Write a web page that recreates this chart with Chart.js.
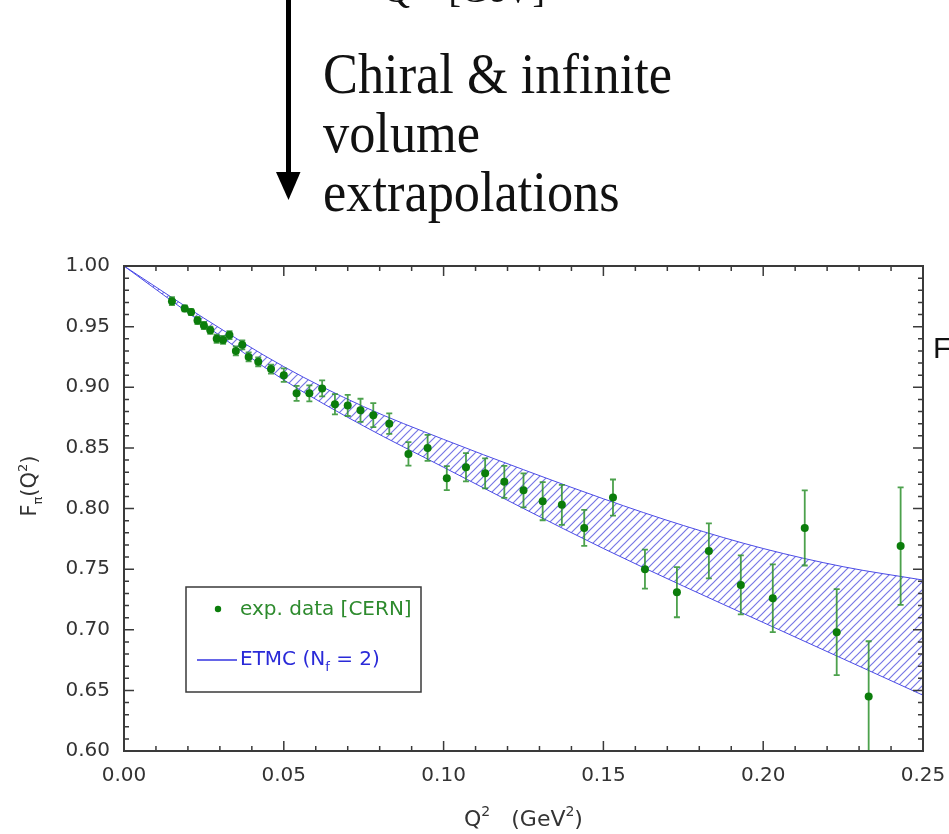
<!DOCTYPE html>
<html>
<head>
<meta charset="utf-8">
<script src="https://cdn.jsdelivr.net/npm/chart.js@4.4.1/dist/chart.umd.min.js"></script>
<style>
  html, body { margin: 0; padding: 0; background: #fff; }
  #wrap { width: 949px; height: 834px; position: relative; }
</style>
</head>
<body>
<div id="wrap"><canvas id="ffChart"></canvas></div>
<script>
// DATA

const qSq = [0.015, 0.019, 0.021, 0.023, 0.025, 0.027, 0.029, 0.031, 0.033, 0.035,
  0.037, 0.039, 0.042, 0.046, 0.050, 0.054, 0.058, 0.062, 0.066, 0.070,
  0.074, 0.078, 0.083, 0.089, 0.095, 0.101, 0.107, 0.113, 0.119, 0.125,
  0.131, 0.137, 0.144, 0.153, 0.163, 0.173, 0.183, 0.193, 0.203, 0.213,
  0.223, 0.233, 0.243];
const formFactor = [0.971, 0.965, 0.962, 0.955, 0.951, 0.947, 0.940, 0.939, 0.943, 0.930,
  0.935, 0.925, 0.921, 0.915, 0.910, 0.895, 0.895, 0.899, 0.886, 0.885,
  0.881, 0.877, 0.870, 0.845, 0.850, 0.825, 0.834, 0.829, 0.822, 0.815,
  0.806, 0.803, 0.784, 0.809, 0.750, 0.731, 0.765, 0.737, 0.726, 0.784,
  0.698, 0.645, 0.769];
const formFactorErr = [0.0033, 0.0025, 0.0025, 0.003, 0.003, 0.003, 0.0033, 0.0033, 0.0033, 0.0037,
  0.0037, 0.0037, 0.0037, 0.0037, 0.0055, 0.0062, 0.0066, 0.0066, 0.0083, 0.0087,
  0.0095, 0.0099, 0.0085, 0.0097, 0.0107, 0.0099, 0.0116, 0.0124, 0.0132, 0.014,
  0.0157, 0.0165, 0.0149, 0.0149, 0.0161, 0.0207, 0.0227, 0.0244, 0.0279, 0.031,
  0.0355, 0.0455, 0.0485];

// ETMC band
const bandX = [0, 0.025, 0.05, 0.075, 0.10, 0.125, 0.15, 0.175, 0.20, 0.225, 0.25];
const bandUpper = [1.000, 0.957, 0.917, 0.884, 0.857, 0.832, 0.808, 0.786, 0.767, 0.752, 0.741];
const bandLower = [1.000, 0.952, 0.906, 0.868, 0.834, 0.800, 0.767, 0.736, 0.706, 0.676, 0.646];

const xTickLabels = ["0.00", "0.05", "0.10", "0.15", "0.20", "0.25"];
const yTickLabels = ["0.60", "0.65", "0.70", "0.75", "0.80", "0.85", "0.90", "0.95", "1.00"];

const FONT = "'DejaVu Sans', sans-serif";
Chart.defaults.font.family = FONT;

// HATCH PATTERN FOR THE BAND

function makeHatch() {
  let c = document.createElement("canvas");
  c.width = 8;
  c.height = 8;
  let g = c.getContext("2d");
  g.strokeStyle = "rgba(95,95,225,0.85)";
  g.lineWidth = 1.2;
  g.beginPath();
  g.moveTo(-1, 9); g.lineTo(9, -1);
  g.moveTo(-1, 1); g.lineTo(1, -1);
  g.moveTo(7, 9); g.lineTo(9, 7);
  g.stroke();
  return g.createPattern(c, "repeat");
}

// ERROR BARS (drawn just before the points)

const errorBars = {
  id: "errorBars",
  beforeDatasetDraw(chart, args) {
    if (args.index !== 2) return;
    const { ctx, chartArea: a, scales } = chart;
    ctx.save();
    ctx.beginPath();
    ctx.rect(a.left, a.top, a.width, a.height);
    ctx.clip();
    ctx.strokeStyle = "rgba(45,145,45,0.85)";
    ctx.lineWidth = 1.8;
    qSq.forEach((q, i) => {
      let px = scales.x.getPixelForValue(q);
      let top = scales.y.getPixelForValue(formFactor[i] + formFactorErr[i]);
      let bot = scales.y.getPixelForValue(formFactor[i] - formFactorErr[i]);
      ctx.beginPath();
      ctx.moveTo(px, top); ctx.lineTo(px, bot);
      ctx.moveTo(px - 3, top); ctx.lineTo(px + 3, top);
      ctx.moveTo(px - 3, bot); ctx.lineTo(px + 3, bot);
      ctx.stroke();
    });
    ctx.restore();
  },
};

// FRAME + INWARD TICKS ON ALL FOUR SIDES

const frame = {
  id: "frame",
  afterDatasetsDraw(chart) {
    const { ctx, chartArea: a, scales } = chart;
    ctx.save();
    ctx.strokeStyle = "#3a3a3a";
    ctx.lineWidth = 1.5;
    ctx.beginPath();
    for (let v = 0; v <= 25; v++) {
      let x = scales.x.getPixelForValue(v / 100);
      let len = v % 5 === 0 ? 10 : 5;
      ctx.moveTo(x, a.bottom); ctx.lineTo(x, a.bottom - len);
      ctx.moveTo(x, a.top); ctx.lineTo(x, a.top + len);
    }
    for (let v = 60; v <= 100; v++) {
      let y = scales.y.getPixelForValue(v / 100);
      let len = v % 5 === 0 ? 10 : 5;
      ctx.moveTo(a.left, y); ctx.lineTo(a.left + len, y);
      ctx.moveTo(a.right, y); ctx.lineTo(a.right - len, y);
    }
    ctx.stroke();
    ctx.lineWidth = 2;
    ctx.strokeRect(a.left, a.top, a.width, a.height);
    ctx.restore();
  },
};

// AXIS TITLES, LEGEND AND THE SLIDE BITS AROUND THE PLOT

function pieces(ctx, parts, x, y) {
  // parts: [text, size, dy]
  parts.forEach((p) => {
    ctx.font = p[1] + "px " + FONT;
    ctx.fillText(p[0], x, y + p[2]);
    x += ctx.measureText(p[0]).width;
  });
  return x;
}

function piecesWidth(ctx, parts) {
  let w = 0;
  parts.forEach((p) => {
    ctx.font = p[1] + "px " + FONT;
    w += ctx.measureText(p[0]).width;
  });
  return w;
}

const decorations = {
  id: "decorations",
  afterDraw(chart) {
    const { ctx, chartArea: a } = chart;
    ctx.save();
    ctx.textBaseline = "alphabetic";
    ctx.textAlign = "left";

    // x title
    ctx.fillStyle = "#333";
    let xt = [["Q", 22, 0], ["2", 14, -10], ["   (GeV", 22, 0], ["2", 14, -10], [")", 22, 0]];
    let xw = piecesWidth(ctx, xt);
    pieces(ctx, xt, (a.left + a.right) / 2 - xw / 2, 826);

    // y title
    let yt = [["F", 21, 0], ["\u03c0", 13, 6], ["(Q", 21, 0], ["2", 13, -9], [")", 21, 0]];
    let yw = piecesWidth(ctx, yt);
    ctx.save();
    ctx.translate(36, 486);
    ctx.rotate(-Math.PI / 2);
    pieces(ctx, yt, -yw / 2, 0);
    ctx.restore();

    // legend box
    let lx = a.left + 62, ly = a.top + 321;
    ctx.fillStyle = "#fff";
    ctx.fillRect(lx, ly, 235, 105);
    ctx.strokeStyle = "#3a3a3a";
    ctx.lineWidth = 1.5;
    ctx.strokeRect(lx, ly, 235, 105);
    ctx.fillStyle = "#0b7d0b";
    ctx.beginPath();
    ctx.arc(lx + 32, ly + 22, 3.2, 0, Math.PI * 2);
    ctx.fill();
    ctx.textBaseline = "middle";
    ctx.fillStyle = "#2e8b2e";
    pieces(ctx, [["exp. data [CERN]", 20, 0]], lx + 54, ly + 23);
    ctx.strokeStyle = "#3333e0";
    ctx.lineWidth = 1.3;
    ctx.beginPath();
    ctx.moveTo(lx + 11, ly + 73);
    ctx.lineTo(lx + 51, ly + 73);
    ctx.stroke();
    ctx.fillStyle = "#2a2ad8";
    pieces(ctx, [["ETMC (N", 20, 0], ["f", 13, 8], [" = 2)", 20, 0]], lx + 54, ly + 73);

    // slide: arrow
    ctx.fillStyle = "#000";
    ctx.fillRect(286, 0, 5, 176);
    ctx.beginPath();
    ctx.moveTo(276, 172);
    ctx.lineTo(300.5, 172);
    ctx.lineTo(288.5, 200);
    ctx.closePath();
    ctx.fill();

    // slide: text
    ctx.textBaseline = "alphabetic";
    ctx.fillStyle = "#111";
    ctx.font = "56px 'Liberation Serif', serif";
    let k = 349 / ctx.measureText("Chiral & infinite").width;
    [["Chiral & infinite", 93], ["volume", 152], ["extrapolations", 211]].forEach((l) => {
      ctx.save();
      ctx.translate(323, l[1]);
      ctx.scale(k, 1);
      ctx.fillText(l[0], 0, 0);
      ctx.restore();
    });
    // cut-off label at the very top
    ctx.save();
    ctx.translate(383, 2);
    ctx.scale(k, 1);
    ctx.font = "40px 'Liberation Serif', serif";
    ctx.fillText("Q", 0, 0);
    ctx.font = "40px 'Liberation Serif', serif";
    ctx.fillText("[GeV", 70, 0);
    ctx.fillText("]", 160, 0);
    ctx.restore();

    // slide: letter cut by the right edge
    ctx.font = "30px 'Liberation Sans', sans-serif";
    ctx.fillText("F", 933, 358);
    ctx.restore();
  },
};

// CHART

const ctx = document.getElementById("ffChart").getContext("2d");

const ffChart = new Chart(ctx, {
  type: "scatter",
  data: {
    datasets: [
      {
        label: "ETMC upper",
        data: bandX.map((x, i) => ({ x: x, y: bandUpper[i] })),
        showLine: true,
        borderColor: "#4b4be6",
        borderWidth: 1,
        pointRadius: 0,
        cubicInterpolationMode: "monotone",
        fill: "+1",
        backgroundColor: makeHatch(),
        order: 2,
      },
      {
        label: "ETMC lower",
        data: bandX.map((x, i) => ({ x: x, y: bandLower[i] })),
        showLine: true,
        borderColor: "#4b4be6",
        borderWidth: 1,
        pointRadius: 0,
        cubicInterpolationMode: "monotone",
        fill: false,
        order: 1,
      },
      {
        label: "exp. data [CERN]",
        data: qSq.map((q, i) => ({ x: q, y: formFactor[i] })),
        showLine: false,
        pointRadius: 4,
        pointBackgroundColor: "#0b7d0b",
        pointBorderColor: "#0b7d0b",
        pointBorderWidth: 0,
        order: 0,
      },
    ],
  },
  plugins: [errorBars, frame, decorations],
  options: {
    responsive: true,
    maintainAspectRatio: false,
    animation: false,
    layout: { padding: { top: 266, right: 26, left: 0, bottom: 0 } },
    plugins: {
      legend: { display: false },
      tooltip: { enabled: false },
    },
    scales: {
      x: {
        type: "linear",
        min: 0,
        max: 0.25,
        grid: { display: false, drawTicks: false },
        border: { display: false },
        ticks: {
          stepSize: 0.05,
          padding: 13,
          color: "#333",
          font: { size: 20 },
          maxRotation: 0,
          callback: (v, i) => xTickLabels[i],
        },
        afterFit: (s) => {
          s.height = 83;
          s.paddingLeft = 0;
          s.paddingRight = 0;
        },
      },
      y: {
        type: "linear",
        min: 0.6,
        max: 1.0,
        grid: { display: false, drawTicks: false },
        border: { display: false },
        ticks: {
          stepSize: 0.05,
          padding: 14,
          color: "#333",
          font: { size: 20 },
          callback: (v, i) => yTickLabels[i],
        },
        afterFit: (s) => {
          s.width = 124;
          s.paddingTop = 0;
          s.paddingBottom = 0;
        },
      },
    },
  },
});
</script>
</body>
</html>
